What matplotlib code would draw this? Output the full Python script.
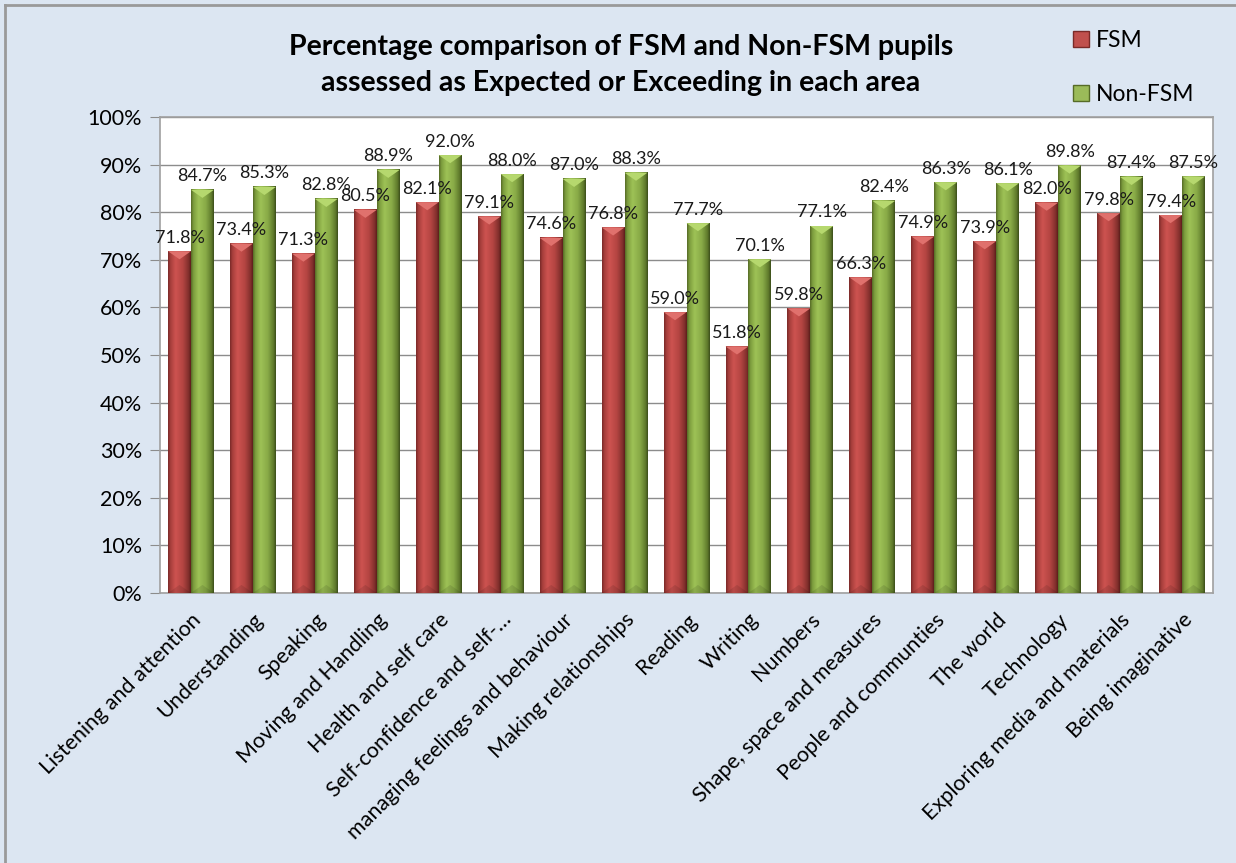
import numpy as np
import matplotlib
matplotlib.use("Agg")
import matplotlib.pyplot as plt
from matplotlib.patches import Polygon, Patch
from matplotlib.lines import Line2D
from matplotlib.colors import to_rgb
from matplotlib.ticker import FuncFormatter, MultipleLocator

categories = [
    "Listening and attention", "Understanding", "Speaking", "Moving and Handling",
    "Health and self care", "Self-confidence and self-\u2026", "managing feelings and behaviour",
    "Making relationships", "Reading", "Writing", "Numbers", "Shape, space and measures",
    "People and communties", "The world", "Technology", "Exploring media and materials",
    "Being imaginative",
]
fsm = [71.8, 73.4, 71.3, 80.5, 82.1, 79.1, 74.6, 76.8, 59.0, 51.8, 59.8, 66.3, 74.9, 73.9, 82.0, 79.8, 79.4]
non_fsm = [84.7, 85.3, 82.8, 88.9, 92.0, 88.0, 87.0, 88.3, 77.7, 70.1, 77.1, 82.4, 86.3, 86.1, 89.8, 87.4, 87.5]
series_names = ["FSM", "Non-FSM"]
title = "Percentage comparison of FSM and Non-FSM pupils\nassessed as Expected or Exceeding in each area"

FONT = "Lato"
plt.rcParams["font.family"] = [FONT, "DejaVu Sans"]

BG = "#DCE6F2"
red_stops = ["#7a2a28", "#a63e3b", "#cd5350", "#b44542", "#82302d", "#5e1e1c"]
green_stops = ["#566b27", "#7c9c3d", "#9ec256", "#88aa47", "#5f7a2c", "#3c4e1b"]
stop_pos = [0.0, 0.1, 0.33, 0.65, 0.9, 1.0]
red_top, green_top = "#e0716d", "#b6d86e"
red_base, green_base = "#c0504d", "#9bbb59"


def gradient(stops, n=64):
    cols = np.array([to_rgb(c) for c in stops])
    t = np.linspace(0, 1, n)
    out = np.stack([np.interp(t, stop_pos, cols[:, k]) for k in range(3)], axis=-1)
    return out[np.newaxis, :, :]


fig = plt.figure(figsize=(12.36, 8.63), dpi=100, facecolor=BG)
ax = fig.add_axes([160 / 1236, 1 - 593 / 863, (1213 - 160) / 1236, (593 - 117) / 863])
ax.set_facecolor("white")

x = np.arange(len(categories))
w = 0.37
bars_r = ax.bar(x - w / 2, fsm, w, color=red_base, zorder=2, label=series_names[0])
bars_g = ax.bar(x + w / 2, non_fsm, w, color=green_base, zorder=2, label=series_names[1])

bevel = 1.7
for bars, stops, top_c in [(bars_r, red_stops, red_top), (bars_g, green_stops, green_top)]:
    g = gradient(stops)
    for b in bars:
        x0, w0, h = b.get_x(), b.get_width(), b.get_height()
        ax.imshow(g, extent=[x0, x0 + w0, 0, h], aspect="auto", zorder=3, interpolation="bilinear")
        ax.add_patch(Polygon([(x0, h), (x0 + w0, h), (x0 + w0 / 2, h - bevel)],
                             closed=True, facecolor=top_c, edgecolor="none", zorder=4))
        ax.add_patch(Polygon([(x0, 0), (x0 + w0, 0), (x0 + w0 / 2, bevel)],
                             closed=True, facecolor="black", alpha=0.1, edgecolor="none", zorder=4))

for bars, vals in [(bars_r, fsm), (bars_g, non_fsm)]:
    for b, v in zip(bars, vals):
        ax.annotate(f"{v:.1f}%", (b.get_x() + b.get_width() / 2, b.get_height()),
                    xytext=(0, 4), textcoords="offset points", ha="center", va="bottom",
                    fontsize=13, color="#1a1a1a", zorder=6)

ax.set_xlim(-0.5, len(categories) - 0.5)
ax.set_ylim(0, 100)
ax.yaxis.set_major_locator(MultipleLocator(10))
ax.yaxis.set_major_formatter(FuncFormatter(lambda v, p: f"{v:.0f}%"))
ax.grid(axis="y", color="#8c8c8c", lw=1.0, zorder=0)
ax.set_axisbelow(True)
ax.set_xticks(x)
ax.set_xticklabels(categories, rotation=45, ha="right", rotation_mode="anchor", fontsize=15.5)
ax.tick_params(axis="x", length=0, pad=12)
ax.tick_params(axis="y", length=7, color="#8c8c8c", labelsize=15.5, pad=6)
for s in ax.spines.values():
    s.set_color("#a0a0a0")
    s.set_linewidth(1.2)

fig.text(621 / 1236, 1 - 65 / 863, title, ha="center", va="center", fontsize=20.5,
         fontweight="bold", linespacing=1.5)

handles = [Patch(facecolor=red_base, edgecolor="#7a2a28"), Patch(facecolor=green_base, edgecolor="#566b27")]
fig.legend(handles, series_names, loc="upper left", bbox_to_anchor=(1052 / 1236, 1 - 9 / 863),
           frameon=False, fontsize=16.5, handlelength=0.7, handleheight=0.7, handletextpad=0.3,
           labelspacing=1.45)

fig.add_artist(Line2D([5 / 1236, 5 / 1236], [0, 1 - 5 / 863], color="#9a9a9a", lw=2))
fig.add_artist(Line2D([5 / 1236, 1], [1 - 5 / 863, 1 - 5 / 863], color="#9a9a9a", lw=2))

fig.savefig("out.png", dpi=100, facecolor=BG)
